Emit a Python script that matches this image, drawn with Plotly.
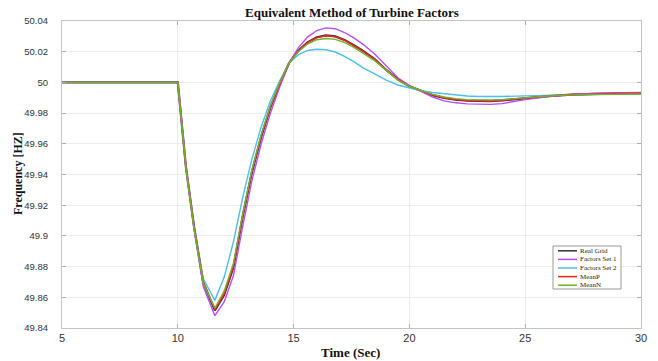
import plotly.graph_objects as go

# ---- data ----
time = [5, 10, 10.35, 10.7, 11.1, 11.6, 12.0, 12.4, 12.8, 13.2, 13.6, 14.0, 14.4, 14.8,
        15.2, 15.6, 16.0, 16.4, 16.8, 17.2, 17.6, 18.0, 18.5, 19.0, 19.5, 20.0, 20.5,
        21.0, 21.5, 22.0, 22.5, 23.0, 23.5, 24.0, 25.0, 26.0, 27.0, 28.0, 29.0, 30.0]

real_grid = [50.000, 50.000, 49.945, 49.906, 49.8695, 49.8515, 49.8615, 49.8795, 49.9125, 49.9415,
             49.9645, 49.9838, 49.9990, 50.0125, 50.0206, 50.0261, 50.0294, 50.0306, 50.0300,
             50.0277, 50.0242, 50.0205, 50.0151, 50.0081, 50.0020, 49.9975, 49.9946, 49.9917,
             49.9899, 49.9887, 49.9881, 49.9878, 49.9878, 49.9883, 49.9898, 49.9910, 49.9920,
             49.9925, 49.9928, 49.9929]

factors_set1 = [50.000, 50.000, 49.945, 49.905, 49.867, 49.848, 49.857, 49.874, 49.906, 49.936,
                49.960, 49.980, 49.997, 50.0125, 50.0225, 50.0295, 50.0338, 50.0355, 50.0350,
                50.0325, 50.0290, 50.0248, 50.0185, 50.0110, 50.0030, 49.9980, 49.9945, 49.9905,
                49.9880, 49.9867, 49.9860, 49.9857, 49.9857, 49.9862, 49.9888, 49.9908, 49.9922,
                49.9930, 49.9934, 49.9935]

factors_set2 = [50.000, 50.000, 49.945, 49.906, 49.872, 49.858, 49.873, 49.896, 49.925, 49.950,
                49.971, 49.988, 50.001, 50.0125, 50.0180, 50.0208, 50.0216, 50.0213, 50.0198,
                50.0170, 50.0135, 50.0095, 50.0055, 50.0015, 49.9983, 49.9962, 49.9946, 49.9934,
                49.9925, 49.9917, 49.9911, 49.9908, 49.9907, 49.9908, 49.9912, 49.9917, 49.9921,
                49.9923, 49.9924, 49.9924]

mean_p = [50.000, 50.000, 49.945, 49.906, 49.870, 49.852, 49.862, 49.880, 49.913, 49.942,
          49.965, 49.984, 49.999, 50.0125, 50.0205, 50.0260, 50.0292, 50.0304, 50.0298,
          50.0275, 50.0240, 50.0203, 50.0150, 50.0080, 50.0020, 49.9975, 49.9946, 49.9918,
          49.9900, 49.9888, 49.9882, 49.9879, 49.9879, 49.9884, 49.9899, 49.9911, 49.9920,
          49.9925, 49.9928, 49.9929]

mean_n = [50.000, 50.000, 49.945, 49.905, 49.869, 49.853, 49.864, 49.882, 49.914, 49.943,
          49.966, 49.985, 50.000, 50.0125, 50.0200, 50.0250, 50.0278, 50.0286, 50.0280,
          50.0260, 50.0228, 50.0192, 50.0142, 50.0080, 50.0015, 49.9975, 49.9946, 49.9922,
          49.9905, 49.9894, 49.9888, 49.9885, 49.9885, 49.9888, 49.9900, 49.9911, 49.9919,
          49.9922, 49.9924, 49.9924]

series_names = ["Real Grid", "Factors Set 1", "Factors Set 2", "MeanP", "MeanN"]
series_values = [real_grid, factors_set1, factors_set2, mean_p, mean_n]
series_colors = ["#333333", "#b94cff", "#4dbeee", "#ff1f1f", "#6fb52c"]
series_widths = [2.2, 1.4, 1.4, 1.4, 1.4]

x_ticks = [5, 10, 15, 20, 25, 30]
y_ticks = [49.84, 49.86, 49.88, 49.90, 49.92, 49.94, 49.96, 49.98, 50.00, 50.02, 50.04]
y_tick_labels = ["49.84", "49.86", "49.88", "49.9", "49.92", "49.94", "49.96", "49.98",
                 "50", "50.02", "50.04"]

fig = go.Figure()
for name, vals, col, w in zip(series_names, series_values, series_colors, series_widths):
    fig.add_trace(go.Scatter(x=time, y=vals, mode="lines", name=name,
                             line=dict(color=col, width=w), showlegend=False))

# ---- manual compact legend (MATLAB style) ----
W, H = 658, 361
L, R, T, B = 62, 17, 21, 33
pw, ph = W - L - R, H - T - B


def px(xp):
    return (xp - L) / pw


def py(yp):
    return 1 - (yp - T) / ph


shapes = [dict(type="rect", xref="paper", yref="paper",
               x0=px(553), x1=px(621), y0=py(289), y1=py(246),
               line=dict(color="#9a9a9a", width=1), fillcolor="white", layer="above")]
annotations = []
for i, (name, col) in enumerate(zip(series_names, series_colors)):
    yy = 250.8 + i * 8.6
    shapes.append(dict(type="line", xref="paper", yref="paper",
                       x0=px(558), x1=px(577), y0=py(yy), y1=py(yy),
                       line=dict(color=col, width=1.5), layer="above"))
    annotations.append(dict(xref="paper", yref="paper", x=px(578), y=py(yy),
                            text=name, showarrow=False, xanchor="left", yanchor="middle",
                            font=dict(family="Liberation Serif", size=7, color="#222")))

annotations.append(dict(xref="paper", yref="paper", x=0.5, y=py(13), text="<b>Equivalent Method of Turbine Factors</b>",
                        showarrow=False, xanchor="center", yanchor="middle",
                        font=dict(family="Liberation Serif", size=13, color="#111")))
annotations.append(dict(xref="paper", yref="paper", x=px(350), y=py(352), text="<b>Time (Sec)</b>",
                        showarrow=False, xanchor="center", yanchor="middle",
                        font=dict(family="Liberation Serif", size=13, color="#111")))
annotations.append(dict(xref="paper", yref="paper", x=px(18), y=py(174), text="<b>Frequency [HZ]</b>",
                        showarrow=False, xanchor="center", yanchor="middle", textangle=-90,
                        font=dict(family="Liberation Serif", size=12, color="#111")))

axis_common = dict(showline=True, linecolor="#c4c4c4", linewidth=1.2, mirror="ticks",
                   ticks="inside", ticklen=4, tickcolor="#b0b0b0", showgrid=True,
                   gridcolor="#ececec", gridwidth=1, zeroline=False)

fig.update_layout(
    width=W, height=H,
    margin=dict(l=L, r=R, t=T, b=B),
    paper_bgcolor="white", plot_bgcolor="white",
    showlegend=False,
    shapes=shapes, annotations=annotations,
    xaxis=dict(range=[5, 30], tickvals=x_ticks, ticktext=[str(v) for v in x_ticks],
               tickfont=dict(family="Liberation Sans", size=11, color="#333"), **axis_common),
    yaxis=dict(range=[49.84, 50.04], tickvals=y_ticks, ticktext=y_tick_labels,
               ticklabelstandoff=11,
               tickfont=dict(family="Liberation Sans", size=9.5, color="#333"),
               **axis_common),
)

fig.write_html("out.html")
